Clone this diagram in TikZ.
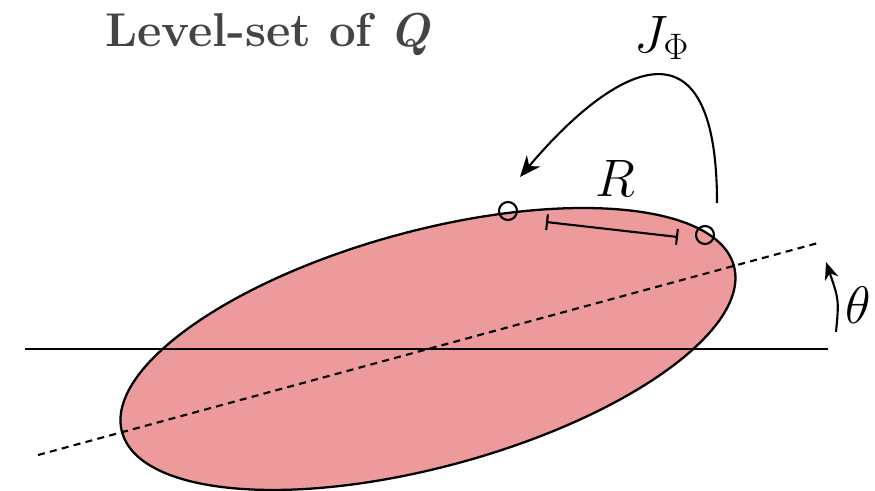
\documentclass[tikz,border=0pt]{standalone}
\usepackage{fix-cm}
\usepackage{amsmath,amssymb}
\usetikzlibrary{calc,arrows.meta}
\definecolor{blobred}{HTML}{EC9A9B}
\definecolor{titlegray}{HTML}{444444}
\tikzset{
  pt/.style={draw,circle,line width=1.2pt,minimum size=.36cm,inner sep=0pt},
  lab/.style={font=\fontsize{30}{36}\selectfont},
}
\begin{document}
\begin{tikzpicture}[x=.02cm,y=-.02cm,line width=1.2pt]
			\useasboundingbox (0,0) rectangle (875,490);
			\coordinate (c) at (428,349);
			\draw[fill=blobred,line width=1.3pt,rotate around={15.2:(c)}] (c) ellipse (317 and 118);
			\foreach \n/\x/\y in {hl1/25/349,hl2/828/349,ax1/38/455,ax2/818/243,j1/717/203,j2/520/177,th1/836/332,th2/826/262,r1/546/222,r2/678/237}\coordinate (\n) at (\x,\y);
			\draw (hl1)--(hl2);
			\draw[dash pattern=on 4pt off 3pt] (ax1)--(ax2);
			\foreach \n/\x/\y in {p1/508/211,p2/705/235}\node[pt] (\n) at (\x,\y){};
			\draw[{Bar[width=9pt]}-{Bar[width=9pt]}] (r1)--(r2);
			\draw[-{Stealth[length=12pt,width=10pt]}] (j1) .. controls (717,5) and (610,70) .. (j2);
			\draw[-{Stealth[length=10pt,width=8pt]}] (th1) .. controls (839,300) .. (th2);
			\node[lab] (rlab) at (615,178) {$R$};
			\node[lab] (jlab) at (662,38) {$J_\Phi$};
			\node[lab] (thlab) at (858,305) {$\theta$};
			\node[text=titlegray,font=\fontsize{27}{32}\selectfont\bfseries] (title) at (268,34) {Level-set of \textit{Q}};
		\end{tikzpicture}
\end{document}
